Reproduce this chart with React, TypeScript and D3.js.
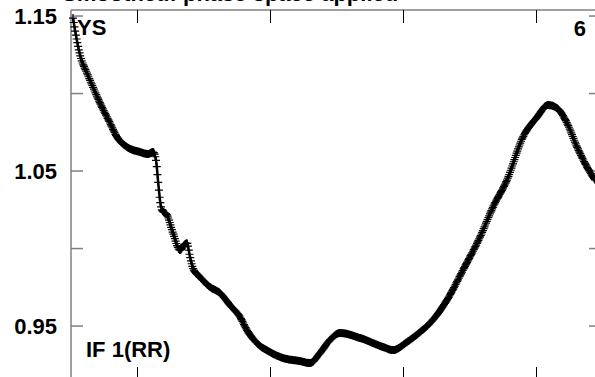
import * as d3 from 'd3';
import * as React from 'react';

// series (x in tick units, y in ratio units)
const xValues = [
    0.515, 0.53, 0.568, 0.62, 0.665, 0.718, 0.793, 0.846, 0.921, 1.019,
    1.079, 1.117, 1.139, 1.154, 1.169, 1.184, 1.222, 1.267, 1.32, 1.35,
    1.372, 1.395, 1.417, 1.47, 1.545, 1.62, 1.695, 1.771, 1.823, 1.898,
    1.996, 2.094, 2.222, 2.297, 2.372, 2.447, 2.523, 2.673, 2.846, 2.921,
    3.026, 3.124, 3.199, 3.327, 3.447, 3.575, 3.673, 3.778, 3.898, 4.004,
    4.086, 4.154, 4.229, 4.305, 4.38, 4.44,
];
const yValues = [
    1.1487, 1.141, 1.1248, 1.1132, 1.1042, 1.0939, 1.081, 1.0719, 1.0655, 1.0623,
    1.061, 1.0623, 1.0571, 1.0442, 1.0313, 1.0248, 1.0216, 1.01, 0.999, 1.0023,
    1.0035, 0.9945, 0.9874, 0.9816, 0.9752, 0.9713, 0.9635, 0.9558, 0.9474, 0.939,
    0.9332, 0.9294, 0.9274, 0.9261, 0.9326, 0.941, 0.9455, 0.9423, 0.9365, 0.9345,
    0.9397, 0.9461, 0.9519, 0.9668, 0.9861, 1.0074, 1.0268, 1.0442, 1.0719, 1.0848,
    1.0926, 1.0906, 1.081, 1.0655, 1.0526, 1.0442,
];
const xTicks = [1, 2, 3, 4];
const yTicks = [0.95, 1.0, 1.05, 1.1, 1.15];
const yTickLabels = ['0.95', '', '1.05', '', '1.15'];
const titleText = 'Smoothed: phase space applied';
const topLeftLabel = 'YS';
const topRightLabel = '6';
const bottomLabel = 'IF 1(RR)';

const width = 595;
const height = 377;
const gray = '#808080';
const font = '"Liberation Sans", Arial, sans-serif';

export default function App() {
    const markRef = React.useRef<SVGGElement>(null);

    const x = d3.scaleLinear().domain([0.5, 4.5]).range([71, 603]);
    const y = d3.scaleLinear().domain([0.9152, 1.1539]).range([380, 10]);

    const line = d3.line<number>()
        .x((_, i) => x(xValues[i]))
        .y(v => y(v))
        .curve(d3.curveMonotoneX);
    const d = line(yValues) || '';

    // "+" symbols placed at an even horizontal step along the drawn curve
    React.useEffect(() => {
        if (!markRef.current) return;
        const g = d3.select(markRef.current);
        g.selectAll('*').remove();
        const probe = g.append('path').attr('d', d).attr('fill', 'none');
        const node = probe.node() as SVGPathElement;
        const total = node.getTotalLength();
        let nextX = -Infinity;
        let marks = '';
        for (let l = 0; l <= total; l += 0.25) {
            const p = node.getPointAtLength(l);
            if (p.x >= nextX) {
                marks += `M${p.x - 4},${p.y}h8M${p.x},${p.y - 4}v8`;
                nextX = p.x + 0.7;
            }
        }
        probe.remove();
        g.append('path')
            .attr('d', marks)
            .attr('fill', 'none')
            .attr('stroke', '#000')
            .attr('stroke-width', 1.2);
    }, [d]);

    const x0 = x.range()[0];
    const x1 = x.range()[1];
    const yTop = y.range()[1];
    const yBot = y.range()[0];

    return (
        <div style={{ position: 'absolute', left: 0, top: 0, width, height, background: '#fff' }}>
            <svg width={width} height={height} style={{ display: 'block' }} fontFamily={font}>
                <rect width={width} height={height} fill="#fff" />
                <text x={62} y={1} fontSize={22} fontWeight="bold" fill="#000">{titleText}</text>

                {/* frame */}
                <line x1={x0} x2={x0} y1={yTop} y2={height} stroke={gray} strokeWidth={1.5} />
                <line x1={x0} x2={width} y1={yTop} y2={yTop} stroke={gray} strokeWidth={1.5} />

                {/* y ticks, both sides */}
                {yTicks.map((t, i) => (
                    <g key={'y' + t}>
                        <line x1={x0} x2={x0 + 12} y1={y(t)} y2={y(t)} stroke={gray} strokeWidth={1.5} />
                        <line x1={x1 - 14} x2={x1} y1={y(t)} y2={y(t)} stroke={gray} strokeWidth={1.5} />
                        {yTickLabels[i] && (
                            <text x={57} y={y(t) + 8} textAnchor="end" fontSize={22} fontWeight="bold">
                                {yTickLabels[i]}
                            </text>
                        )}
                    </g>
                ))}

                {/* x ticks, top and bottom */}
                {xTicks.map(t => (
                    <g key={'x' + t}>
                        <line x1={x(t)} x2={x(t)} y1={yTop} y2={yTop + 13} stroke="#000" strokeWidth={1} />
                        <line x1={x(t)} x2={x(t)} y1={yBot - 13} y2={yBot} stroke="#000" strokeWidth={1} />
                    </g>
                ))}

                <path d={d} fill="none" stroke="#000" strokeWidth={2.5} />
                <g ref={markRef} />

                <text x={77} y={35} fontSize={22} fontWeight="bold">{topLeftLabel}</text>
                <text x={586} y={36} textAnchor="end" fontSize={22} fontWeight="bold">{topRightLabel}</text>
                <text x={86} y={357} fontSize={22} fontWeight="bold">{bottomLabel}</text>
            </svg>
        </div>
    );
}
